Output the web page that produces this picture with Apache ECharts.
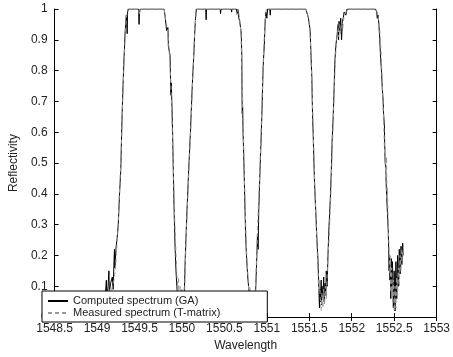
<!DOCTYPE html>
<html>
<head>
<meta charset="utf-8">
<script src="https://cdn.jsdelivr.net/npm/echarts@6/dist/echarts.min.js"></script>
<style>
html,body{margin:0;padding:0;background:#fff;}
#chart{width:453px;height:357px;}
</style>
</head>
<body>
<div id="chart"></div>
<script>
// ---- data ----
const seriesNames = ['Computed spectrum (GA)', 'Measured spectrum (T-matrix)'];

const wlComputed = [
  1549.08,1549.10,1549.11,1549.115,1549.13,1549.14,1549.145,1549.16,1549.18,1549.19,1549.20,1549.205,1549.21,1549.225,1549.235,1549.25,1549.265,1549.28,1549.29,1549.30,1549.315,1549.33,1549.345,1549.355,1549.36,1549.37,
  1549.49,1549.495,1549.50,1549.51,1549.79,
  1549.80,1549.82,1549.835,1549.84,1549.86,1549.87,1549.875,1549.89,1549.90,1549.91,1549.92,1549.93,1549.94,1549.95,1549.97,1549.99,1550.00,1550.02,1550.03,1550.04,1550.06,1550.08,1550.10,1550.12,1550.13,1550.14,1550.15,1550.16,1550.17,
  1550.28,1550.285,1550.29,1550.45,1550.455,1550.46,1550.58,1550.585,1550.59,1550.64,
  1550.65,1550.66,1550.67,1550.68,1550.695,1550.70,1550.705,1550.708,1550.71,1550.715,1550.72,1550.73,1550.74,1550.75,1550.76,1550.775,1550.785,1550.80,1550.82,1550.84,1550.86,1550.87,1550.88,1550.89,1550.897,1550.905,1550.92,1550.935,1550.945,1550.955,1550.965,1550.97,1550.98,1550.99,1551.0,1551.01,1551.035,1551.04,1551.045,
  1551.46,1551.47,1551.48,1551.49,1551.50,1551.51,1551.52,1551.53,1551.535,1551.54,1551.545,1551.55,1551.56,1551.57,1551.58,1551.59,1551.60,1551.61,1551.615,1551.62,1551.625,1551.63,1551.64,1551.645,1551.65,1551.66,1551.67,1551.675,1551.685,1551.695,1551.70,1551.71,1551.72,1551.73,1551.74,1551.75,1551.76,1551.77,1551.78,1551.79,1551.80,1551.81,1551.82,1551.83,1551.84,1551.845,1551.85,1551.86,1551.87,1551.88,1551.89,1551.90,1551.91,1551.93,1551.945,
  1552.28,1552.295,1552.30,1552.31,1552.32,1552.33,1552.34,1552.35,1552.36,1552.37,1552.375,1552.385,1552.39,1552.40,1552.41,1552.42,1552.43,1552.435,1552.44,1552.445,1552.45,1552.455,1552.46,1552.465,1552.47,1552.48,1552.49,1552.50,1552.51,1552.52,1552.53,1552.54,1552.55,1552.56,1552.57,1552.58,1552.59,1552.60,1552.605
];
const rComputed = [
  0.05,0.08,0.12,0.06,0.10,0.15,0.08,0.11,0.13,0.09,0.18,0.22,0.16,0.23,0.25,0.30,0.40,0.48,0.60,0.70,0.82,0.92,0.98,0.92,0.99,1.0,
  1.0,0.95,0.99,1.0,1.0,
  0.98,0.93,0.94,0.88,0.85,0.72,0.76,0.60,0.45,0.32,0.22,0.15,0.10,0.06,0.03,0.05,0.02,0.04,0.10,0.20,0.35,0.48,0.60,0.74,0.80,0.85,0.92,0.97,1.0,
  1.0,0.965,1.0,1.0,0.985,1.0,1.0,0.99,1.0,1.0,
  0.985,1.0,0.97,0.96,0.93,0.91,0.85,0.72,0.66,0.68,0.60,0.50,0.38,0.27,0.20,0.13,0.10,0.05,0.02,0.04,0.03,0.10,0.18,0.27,0.22,0.35,0.48,0.60,0.69,0.80,0.86,0.88,0.96,0.99,0.97,1.0,1.0,0.98,1.0,
  1.0,0.99,0.98,0.97,0.95,0.93,0.85,0.78,0.70,0.64,0.60,0.55,0.45,0.38,0.32,0.25,0.20,0.12,0.07,0.03,0.09,0.05,0.12,0.04,0.10,0.06,0.13,0.05,0.11,0.07,0.15,0.10,0.20,0.28,0.34,0.40,0.48,0.58,0.64,0.72,0.82,0.87,0.90,0.92,0.95,0.90,0.96,0.93,0.97,0.90,0.96,0.97,0.99,0.98,1.0,
  1.0,0.99,0.97,0.98,0.95,0.90,0.84,0.80,0.74,0.70,0.66,0.62,0.52,0.48,0.40,0.34,0.28,0.22,0.15,0.20,0.12,0.17,0.06,0.19,0.10,0.18,0.03,0.15,0.02,0.18,0.06,0.20,0.10,0.22,0.14,0.23,0.17,0.24,0.20
];

const wlMeasured = [
  1549.09,1549.12,1549.14,1549.16,1549.18,1549.20,1549.215,1549.23,1549.245,1549.26,1549.275,1549.29,1549.30,1549.315,1549.33,1549.345,1549.36,1549.49,1549.50,1549.51,
  1549.79,1549.805,1549.82,1549.84,1549.855,1549.87,1549.885,1549.90,1549.91,1549.925,1549.94,1549.955,1549.96,1549.97,1549.98,1549.99,1550.0,1550.01,1550.02,1550.03,1550.035,1550.045,1550.06,1550.08,1550.10,1550.12,1550.135,1550.15,1550.165,1550.18,
  1550.63,1550.65,1550.66,1550.68,1550.695,1550.705,1550.715,1550.725,1550.735,1550.745,1550.755,1550.765,1550.78,1550.79,1550.80,1550.81,1550.82,1550.83,1550.84,1550.85,1550.86,1550.87,1550.88,1550.89,1550.90,1550.915,1550.93,1550.945,1550.955,1550.965,1550.975,1550.985,1550.995,
  1551.46,1551.475,1551.49,1551.505,1551.515,1551.525,1551.535,1551.545,1551.555,1551.565,1551.575,1551.585,1551.595,1551.605,1551.61,1551.62,1551.63,1551.64,1551.65,1551.66,1551.67,1551.68,1551.69,1551.70,1551.71,1551.72,1551.73,1551.74,1551.75,1551.76,1551.77,1551.78,1551.79,1551.80,1551.81,1551.82,1551.83,1551.84,1551.85,1551.865,1551.88,1551.895,1551.91,1551.93,1551.95,
  1552.28,1552.30,1552.315,1552.33,1552.345,1552.36,1552.37,1552.38,1552.39,1552.395,1552.40,1552.41,1552.415,1552.42,1552.43,1552.44,1552.45,1552.455,1552.46,1552.47,1552.48,1552.49,1552.50,1552.51,1552.52,1552.53,1552.54,1552.55,1552.56,1552.57,1552.58,1552.59,1552.60
];
const rMeasured = [
  0.04,0.06,0.09,0.07,0.10,0.12,0.15,0.21,0.28,0.38,0.47,0.58,0.68,0.80,0.90,0.97,1.0,1.0,0.98,1.0,
  1.0,0.97,0.95,0.90,0.84,0.75,0.62,0.48,0.36,0.24,0.14,0.08,0.13,0.05,0.10,0.03,0.09,0.02,0.07,0.04,0.12,0.22,0.33,0.46,0.58,0.72,0.83,0.93,0.98,1.0,
  1.0,0.98,1.0,0.97,0.92,0.82,0.70,0.58,0.46,0.36,0.26,0.19,0.12,0.07,0.10,0.04,0.08,0.02,0.06,0.03,0.07,0.12,0.20,0.28,0.36,0.46,0.58,0.72,0.80,0.88,0.94,0.98,1.0,
  1.0,0.99,0.97,0.94,0.88,0.80,0.72,0.62,0.52,0.42,0.34,0.27,0.20,0.14,0.08,0.12,0.06,0.02,0.08,0.03,0.09,0.04,0.10,0.06,0.14,0.19,0.24,0.30,0.37,0.45,0.54,0.62,0.70,0.78,0.85,0.89,0.93,0.91,0.95,0.92,0.96,0.94,0.98,0.99,1.0,
  1.0,0.99,0.97,0.93,0.86,0.76,0.68,0.60,0.50,0.55,0.45,0.52,0.38,0.42,0.30,0.22,0.14,0.20,0.08,0.16,0.05,0.12,0.02,0.10,0.03,0.13,0.07,0.16,0.10,0.20,0.15,0.22,0.20
];

// ---- chart ----
const pair = (xs, ys) => xs.map((x, i) => [x, ys[i]]);
const font = '"Liberation Sans", Arial, Helvetica, sans-serif';
const txt = '#222';
const plain = v => String(parseFloat(Number(v).toFixed(3)));

const chart = echarts.init(document.getElementById('chart'), null, {renderer: 'canvas'});
const axisLine = {show: true, lineStyle: {color: '#000', width: 1}};
const tickIn = {show: true, inside: true, length: 4, lineStyle: {color: '#000'}};

chart.setOption({
  animation: false,
  backgroundColor: '#fff',
  grid: {left: 42, right: 13, top: 9, bottom: 35, containLabel: false},
  xAxis: [{
    type: 'value', min: 1548.5, max: 1553, interval: 0.5,
    position: 'bottom',
    axisLine: axisLine, axisTick: tickIn, splitLine: {show: false},
    axisLabel: {fontSize: 12, color: txt, fontFamily: font, margin: 6, formatter: plain},
    name: 'Wavelength', nameLocation: 'middle', nameGap: 21,
    nameTextStyle: {fontSize: 12, color: txt, fontFamily: font}
  }, {
    type: 'value', min: 1548.5, max: 1553, interval: 0.5,
    position: 'top',
    axisLine: axisLine, axisTick: tickIn, splitLine: {show: false},
    axisLabel: {show: false}
  }],
  yAxis: [{
    type: 'value', min: 0, max: 1, interval: 0.1,
    position: 'left',
    axisLine: axisLine, axisTick: tickIn, splitLine: {show: false},
    axisLabel: {fontSize: 12, color: txt, fontFamily: font, margin: 7, formatter: plain},
    name: 'Reflectivity', nameLocation: 'middle', nameGap: 30, nameRotate: 90,
    nameTextStyle: {fontSize: 12, color: txt, fontFamily: font}
  }, {
    type: 'value', min: 0, max: 1, interval: 0.1,
    position: 'right',
    axisLine: axisLine, axisTick: tickIn, splitLine: {show: false},
    axisLabel: {show: false}
  }],
  legend: {
    orient: 'vertical', left: 42, top: 291,
    padding: [4, 47, 3, 5],
    itemWidth: 20, itemHeight: 8, itemGap: 0,
    itemStyle: {opacity: 0},
    backgroundColor: '#fff', borderColor: '#000', borderWidth: 1, borderRadius: 0,
    textStyle: {fontSize: 11, color: txt, fontFamily: font, lineHeight: 12},
    data: seriesNames
  },
  series: [{
    name: seriesNames[0], type: 'line', xAxisIndex: 0, yAxisIndex: 0,
    data: pair(wlComputed, rComputed),
    symbol: 'none', showSymbol: false,
    lineStyle: {color: '#000', width: 1},
    itemStyle: {color: '#000'}
  }, {
    name: seriesNames[1], type: 'line', xAxisIndex: 0, yAxisIndex: 0,
    data: pair(wlMeasured, rMeasured),
    symbol: 'none', showSymbol: false,
    lineStyle: {color: '#999', width: 1, type: [4, 3]},
    itemStyle: {color: '#999'}
  }]
});
</script>
</body>
</html>
